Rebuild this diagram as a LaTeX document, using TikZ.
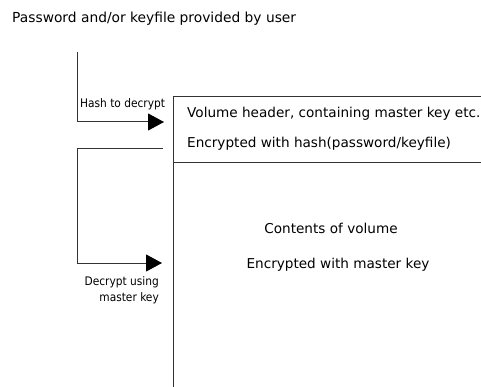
\documentclass[tikz,border=0pt]{standalone}
\usepackage{fontspec}
\setmainfont{DejaVu Sans}
\newfontfamily\condfont{DejaVu Sans Condensed}
\usetikzlibrary{arrows.meta}
\begin{document}
\begin{tikzpicture}[x=1pt,y=-1pt,
  line/.style={draw=black!80, line width=1pt},
  arr/.style={line, -{Triangle[length=16pt,width=17pt,fill=black,color=black]}},
  maintext/.style={inner sep=0pt, font=\fontsize{13.6}{16}\selectfont},
  titletext/.style={inner sep=0pt, font=\fontsize{13.8}{16}\selectfont},
  smalltext/.style={inner sep=0pt, font=\condfont\fontsize{11.8}{16}\selectfont}]
\useasboundingbox (0,0) rectangle (481,387);
% title
\node[titletext, anchor=west] (title) at (12,19) {Password and/or keyfile provided by user};
% box
\coordinate (boxtr) at (481,97);
\coordinate (boxtl) at (173,97);
\coordinate (boxbl) at (173,387);
\coordinate (divl) at (173,163);
\coordinate (divr) at (481,163);
\draw[line] (boxtr) -- (boxtl) -- (boxbl);
\draw[line] (divl) -- (divr);
% texts in box
\node[maintext, anchor=west] (hdr1) at (187,114) {Volume header, containing master key etc.};
\node[maintext, anchor=west] (hdr2) at (187,144) {Encrypted with hash(password/keyfile)};
\node[maintext] (cnt1) at (331,228) {Contents of volume};
\node[maintext] (cnt2) at (338,265) {Encrypted with master key};
% first connector
\coordinate (h0) at (77,52);
\coordinate (h1) at (77,122);
\coordinate (h2) at (164,122);
\draw[arr] (h0) -- (h1) -- (h2);
\node[smalltext, anchor=west] (hashlbl) at (80,104) {Hash to decrypt};
% second connector
\coordinate (d0) at (163,149);
\coordinate (d1) at (77,149);
\coordinate (d2) at (77,263);
\coordinate (d3) at (162,263);
\draw[arr] (d0) -- (d1) -- (d2) -- (d3);
\node[smalltext, anchor=north east, align=right] (declbl) at (159,276) {Decrypt using\\master key};
\end{tikzpicture}
\end{document}
